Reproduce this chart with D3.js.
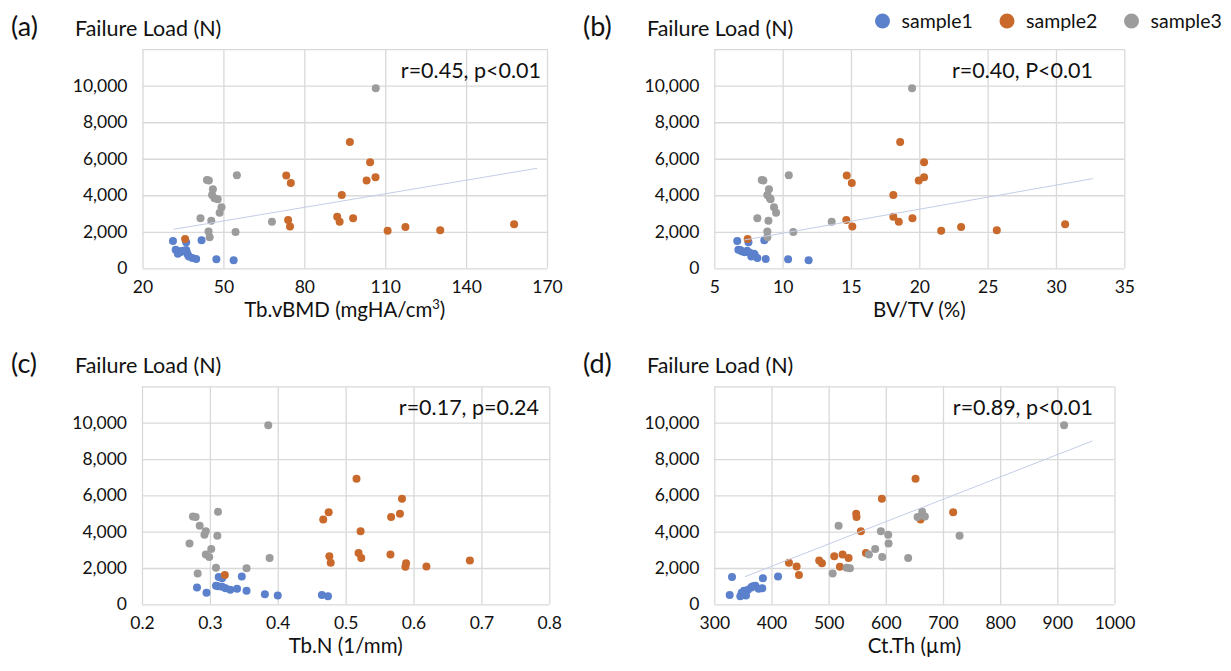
<!DOCTYPE html>
<meta charset="utf-8">
<script src="https://d3js.org/d3.v7.min.js"></script>
<title>Failure Load scatter panels</title>
<style>
body { margin: 0; background: #fff; }
text { font-family: Lato, "Open Sans", sans-serif; fill: #111; }
</style>
<body>
<div id="my_dataviz"></div>
<script>

// ---- data ----
const samples = ["sample1", "sample2", "sample3"];

// failure load (N) per specimen
const load1 = [1500, 1530, 1430, 1020, 930, 880, 850, 800, 740, 640, 560, 510, 490, 440, 1000, 960];
const load2 = [1607, 5076, 4675, 2648, 2283, 2830, 2556, 4017, 6921, 2739, 4802, 5807, 4985, 2063, 2264, 2082, 2410];
const load3 = [9860, 5095, 4839, 4802, 4328, 4017, 3835, 3780, 3342, 3049, 2739, 2611, 2556, 2009, 1698, 1990];

// (a) Tb.vBMD
const vbmd1 = [31.3, 41.9, 36.2, 32.3, 33.7, 34.0, 36.5, 33.1, 36.8, 37.2, 38.5, 39.9, 47.4, 53.8, 36.2, 35.0];
const vbmd2 = [35.8, 73.3, 75.0, 74.0, 74.7, 92.2, 93.1, 93.9, 96.9, 98.1, 103.1, 104.4, 106.4, 110.9, 117.5, 130.4, 157.8];
const vbmd3 = [106.5, 55.0, 43.9, 44.6, 46.1, 45.8, 46.7, 47.9, 49.3, 48.6, 41.5, 45.5, 68.0, 44.5, 44.9, 54.5];

// (b) BV/TV
const bvtv1 = [6.68, 8.66, 7.5, 6.76, 7.0, 7.22, 7.6, 7.9, 7.96, 7.71, 8.15, 8.76, 10.4, 11.9, 6.9, 7.4];
const bvtv2 = [7.44, 14.69, 15.06, 14.66, 15.1, 18.1, 18.5, 18.1, 18.6, 19.5, 19.96, 20.35, 20.35, 21.6, 23.06, 25.67, 30.67];
const bvtv3 = [19.47, 10.45, 8.47, 8.59, 9.0, 8.88, 9.07, 9.12, 9.37, 9.52, 8.15, 8.96, 13.59, 8.88, 8.88, 10.78];

// (c) Tb.N
const tbn1 = [0.313, 0.347, 0.318, 0.309, 0.281, 0.323, 0.340, 0.330, 0.354, 0.295, 0.381, 0.465, 0.400, 0.474, 0.312, 0.318];
const tbn2 = [0.322, 0.475, 0.467, 0.476, 0.478, 0.519, 0.523, 0.522, 0.516, 0.566, 0.567, 0.583, 0.580, 0.588, 0.589, 0.619, 0.683];
const tbn3 = [0.386, 0.312, 0.275, 0.279, 0.285, 0.294, 0.292, 0.311, 0.270, 0.302, 0.294, 0.299, 0.388, 0.309, 0.282, 0.354];

// (d) Ct.Th
const ctth1 = [331, 411.5, 385, 371.7, 364.7, 383.9, 377.6, 358.9, 352, 347.8, 350.2, 326.9, 355.5, 345.5, 368, 366];
const ctth2 = [448, 717.8, 660.8, 509.8, 430.6, 565.2, 534.9, 556.4, 652, 524.4, 548.8, 593.1, 548.2, 519.7, 488.3, 444, 483.5];
const ctth3 = [911.8, 663.6, 668.3, 655.5, 517.4, 591.4, 604.2, 729, 604.8, 581.4, 570.4, 593.7, 639.1, 531.4, 507, 537.2];

// trendline end points [x, y]
const trendA = [[31.6, 2137], [166.4, 5479]];
const trendB = [[7.2, 1551], [32.7, 4910]];
const trendD = [[353.7, 1521], [961.5, 8997]];

const yTicks = [0, 2000, 4000, 6000, 8000, 10000];
const xTicksA = [20, 50, 80, 110, 140, 170];
const xTicksB = [5, 10, 15, 20, 25, 30, 35];
const xTicksC = [0.2, 0.3, 0.4, 0.5, 0.6, 0.7, 0.8];
const xTicksD = [300, 400, 500, 600, 700, 800, 900, 1000];

const stats = ["r=0.45, p<0.01", "r=0.40, P<0.01", "r=0.17, p=0.24", "r=0.89, p<0.01"];

// ---- layout ----
const colors = ["#5b80cc", "#c96a2c", "#9c9c9c"];
const W = 1231, H = 671;

const panels = [
  {tag: "(a)", xs: [vbmd1, vbmd2, vbmd3], ticks: xTicksA, trend: trendA, stat: stats[0],
   left: 142.5, right: 547, top: 49.2, bottom: 268.3, col: 0, statX: 541, title: "vbmd"},
  {tag: "(b)", xs: [bvtv1, bvtv2, bvtv3], ticks: xTicksB, trend: trendB, stat: stats[1],
   left: 714.3, right: 1124.3, top: 49.2, bottom: 268.3, col: 572, statX: 1093, title: "BV/TV (%)"},
  {tag: "(c)", xs: [tbn1, tbn2, tbn3], ticks: xTicksC, trend: null, stat: stats[2],
   left: 142, right: 549.3, top: 386.4, bottom: 604.3, col: 0, statX: 539, title: "Tb.N (1/mm)"},
  {tag: "(d)", xs: [ctth1, ctth2, ctth3], ticks: xTicksD, trend: trendD, stat: stats[3],
   left: 714.3, right: 1114.5, top: 386.4, bottom: 604.3, col: 572, statX: 1093, title: "Ct.Th (\u00b5m)"}
];
const loads = [load1, load2, load3];

const svg = d3.select("#my_dataviz")
  .append("svg")
    .attr("width", W)
    .attr("height", H);

panels.forEach(function(p) {
  const x = d3.scaleLinear()
    .domain(d3.extent(p.ticks))
    .range([p.left, p.right]);
  const y = d3.scaleLinear()
    .domain([0, 12000])
    .range([p.bottom, p.top]);

  const g = svg.append("g");

  // grid lines
  g.append("g")
    .attr("transform", `translate(0,${p.bottom})`)
    .call(d3.axisBottom(x).tickValues(p.ticks).tickSize(-(p.bottom - p.top)).tickFormat(""))
    .call(a => a.select(".domain").remove())
    .selectAll("line").attr("stroke", "#d9d9d9").attr("stroke-width", 1.3);
  g.append("g")
    .attr("transform", `translate(${p.left},0)`)
    .call(d3.axisLeft(y).tickValues(yTicks.concat([12000])).tickSize(-(p.right - p.left)).tickFormat(""))
    .call(a => a.select(".domain").remove())
    .selectAll("line").attr("stroke", "#d9d9d9").attr("stroke-width", 1.3);

  // y tick labels
  const ya = g.append("g")
    .attr("transform", `translate(${p.left - 2},0)`)
    .call(d3.axisLeft(y).tickValues(yTicks).tickSize(0).tickPadding(13).tickFormat(d3.format(",")));
  ya.select(".domain").remove();
  ya.selectAll("text").style("font-size", "17.5px").style("font-family", "Lato").attr("fill", "#111");

  // x tick labels
  const xa = g.append("g")
    .attr("transform", `translate(0,${p.bottom})`)
    .call(d3.axisBottom(x).tickValues(p.ticks).tickSize(0).tickPadding(12).tickFormat(d => d));
  xa.select(".domain").remove();
  xa.selectAll("text").style("font-size", "17.5px").style("font-family", "Lato").attr("fill", "#111");

  // points
  samples.forEach(function(s, i) {
    g.append("g")
      .selectAll("circle")
      .data(p.xs[i].map((v, k) => [v, loads[i][k]]))
      .join("circle")
        .attr("cx", d => x(d[0]))
        .attr("cy", d => y(d[1]))
        .attr("r", 4)
        .attr("fill", colors[i]);
  });

  // trend line
  if (p.trend) {
    g.append("line")
      .attr("x1", x(p.trend[0][0])).attr("y1", y(p.trend[0][1]))
      .attr("x2", x(p.trend[1][0])).attr("y2", y(p.trend[1][1]))
      .attr("stroke", "#c3cde6")
      .attr("stroke-width", 1);
  }

  // headings
  g.append("text")
    .attr("x", p.col + 11).attr("y", p.top - 13)
    .style("font-size", "27px")
    .text(p.tag);
  g.append("text")
    .attr("x", p.col + 75).attr("y", p.top - 13)
    .style("font-size", "21.5px")
    .text("Failure Load (N)");

  // r / p annotation
  g.append("text")
    .attr("x", p.statX).attr("y", p.top + 29)
    .attr("text-anchor", "end")
    .style("font-size", "21.5px")
    .text(p.stat);

  // x axis title
  const t = g.append("text")
    .attr("x", (p.left + p.right) / 2).attr("y", p.bottom + 49)
    .attr("text-anchor", "middle")
    .style("font-size", "20.5px");
  if (p.title == "vbmd") {
    t.append("tspan").text("Tb.vBMD (mgHA/cm");
    t.append("tspan").attr("dy", -8).style("font-size", "13px").text("3");
    t.append("tspan").attr("dy", 8).text(")");
  } else {
    t.text(p.title);
  }
});

// legend
const legX = [882.5, 1007, 1131.5];
samples.forEach(function(s, i) {
  svg.append("circle")
    .attr("cx", legX[i]).attr("cy", 21)
    .attr("r", 7.5)
    .attr("fill", colors[i]);
  svg.append("text")
    .attr("x", legX[i] + 19).attr("y", 28)
    .style("font-size", "19.5px")
    .text(s);
});

</script>
</body>
